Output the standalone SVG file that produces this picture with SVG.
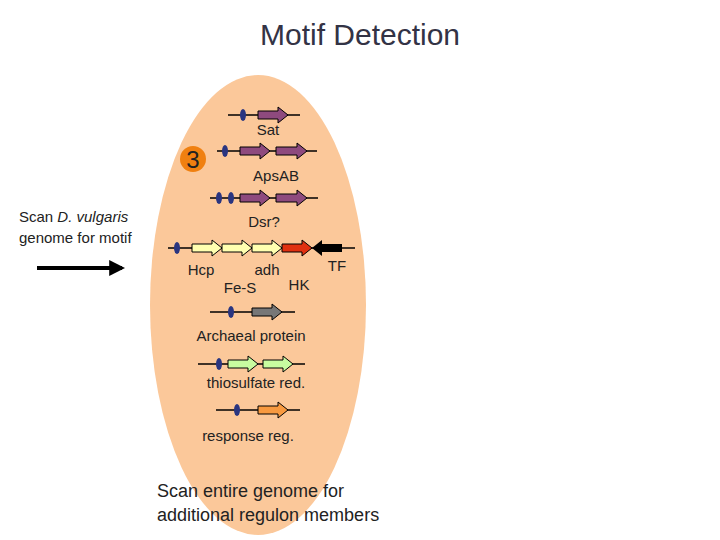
<svg xmlns="http://www.w3.org/2000/svg" width="720" height="540" viewBox="0 0 720 540">
<style>
text{font-family:"Liberation Sans",Arial,sans-serif;fill:#222}
.l{font-size:15px;text-anchor:middle}
.ln{stroke:#000;stroke-width:1.3}
.ov{fill:#2a3580}
.p{fill:#8e4a7e;stroke:#000;stroke-width:1}
.y{fill:#ffffb0;stroke:#000;stroke-width:1}
</style>
<defs>
<marker id="ah" markerWidth="4" markerHeight="4" refX="3.2" refY="2" orient="auto" markerUnits="strokeWidth"><path d="M0,0 L4,2 L0,4 z" fill="#000"/></marker>
</defs>
<rect width="720" height="540" fill="#fff"/>
<text x="360" y="45" font-size="30" text-anchor="middle" style="fill:#333345">Motif Detection</text>
<ellipse cx="258" cy="305" rx="108" ry="230" fill="#fbc89a"/>
<g id="left">
<text x="19" y="222" font-size="15">Scan <tspan font-style="italic">D. vulgaris</tspan></text>
<text x="19" y="243" font-size="15">genome for motif</text>
</g>
<g id="connectors"><line x1="37" y1="268" x2="122" y2="268" stroke="#000" stroke-width="4" marker-end="url(#ah)"/></g>
<g id="step"><circle cx="193" cy="159" r="13" fill="#f08010"/><text x="193" y="168" font-size="24" text-anchor="middle">3</text></g>
<g id="sat"><line class="ln" x1="228" y1="115" x2="300" y2="115"/><ellipse class="ov" cx="243" cy="115" rx="3" ry="6"/>
<path class="p" d="M258,111h20v-4l10,8l-10,8v-4h-20z"/><text class="l" x="268" y="135">Sat</text></g>
<g id="aps"><line class="ln" x1="217" y1="151" x2="317" y2="151"/><ellipse class="ov" cx="225" cy="155" rx="3" ry="6" transform="translate(0,-4)"/>
<path class="p" d="M240,147h20v-4l10,8l-10,8v-4h-20z"/><path class="p" d="M276,147h21v-4l10,8l-10,8v-4h-21z"/><text class="l" x="276" y="181">ApsAB</text></g>
<g id="dsr"><line class="ln" x1="210" y1="198" x2="318" y2="198"/><ellipse class="ov" cx="219" cy="198" rx="3" ry="6"/><ellipse class="ov" cx="231" cy="198" rx="3" ry="6"/>
<path class="p" d="M240,194h20v-4l10,8l-10,8v-4h-20z"/><path class="p" d="M276,194h21v-4l10,8l-10,8v-4h-21z"/><text class="l" x="264" y="227">Dsr?</text></g>
<g id="hcp"><line class="ln" x1="168" y1="248" x2="355" y2="248"/><ellipse class="ov" cx="177" cy="248" rx="3" ry="6"/>
<path class="y" d="M192,244h20v-4l10,8l-10,8v-4h-20z"/><path class="y" d="M222,244h20v-4l10,8l-10,8v-4h-20z"/><path class="y" d="M252,244h20v-4l10,8l-10,8v-4h-20z"/>
<path d="M282,244h20v-4l10,8l-10,8v-4h-20z" fill="#e03010" stroke="#000"/><path d="M342,244h-20v-4l-10,8l10,8v-4h20z" fill="#000"/>
<text class="l" x="201" y="275">Hcp</text><text class="l" x="267" y="275">adh</text><text class="l" x="240" y="293">Fe-S</text><text class="l" x="299" y="290">HK</text><text class="l" x="337" y="271">TF</text></g>
<g id="arch"><line class="ln" x1="210" y1="312" x2="295" y2="312"/><ellipse class="ov" cx="231" cy="312" rx="3" ry="6"/>
<path d="M252,308h20v-4l10,8l-10,8v-4h-20z" fill="#777" stroke="#000"/><text class="l" x="251" y="341">Archaeal protein</text></g>
<g id="thio"><line class="ln" x1="198" y1="364" x2="305" y2="364"/><ellipse class="ov" cx="219" cy="364" rx="3" ry="6"/>
<path d="M228,360h20v-4l10,8l-10,8v-4h-20z" fill="#c8fca0" stroke="#000"/><path d="M263,360h20v-4l10,8l-10,8v-4h-20z" fill="#c8fca0" stroke="#000"/><text class="l" x="256" y="388">thiosulfate red.</text></g>
<g id="resp"><line class="ln" x1="216" y1="410" x2="300" y2="410"/><ellipse class="ov" cx="237" cy="410" rx="3" ry="6"/>
<path d="M258,406h20v-4l10,8l-10,8v-4h-20z" fill="#f89a40" stroke="#000"/><text class="l" x="248" y="441">response reg.</text></g>
<text x="157" y="497" font-size="18">Scan entire genome for</text>
<text x="157" y="521" font-size="18">additional regulon members</text>
</svg>
